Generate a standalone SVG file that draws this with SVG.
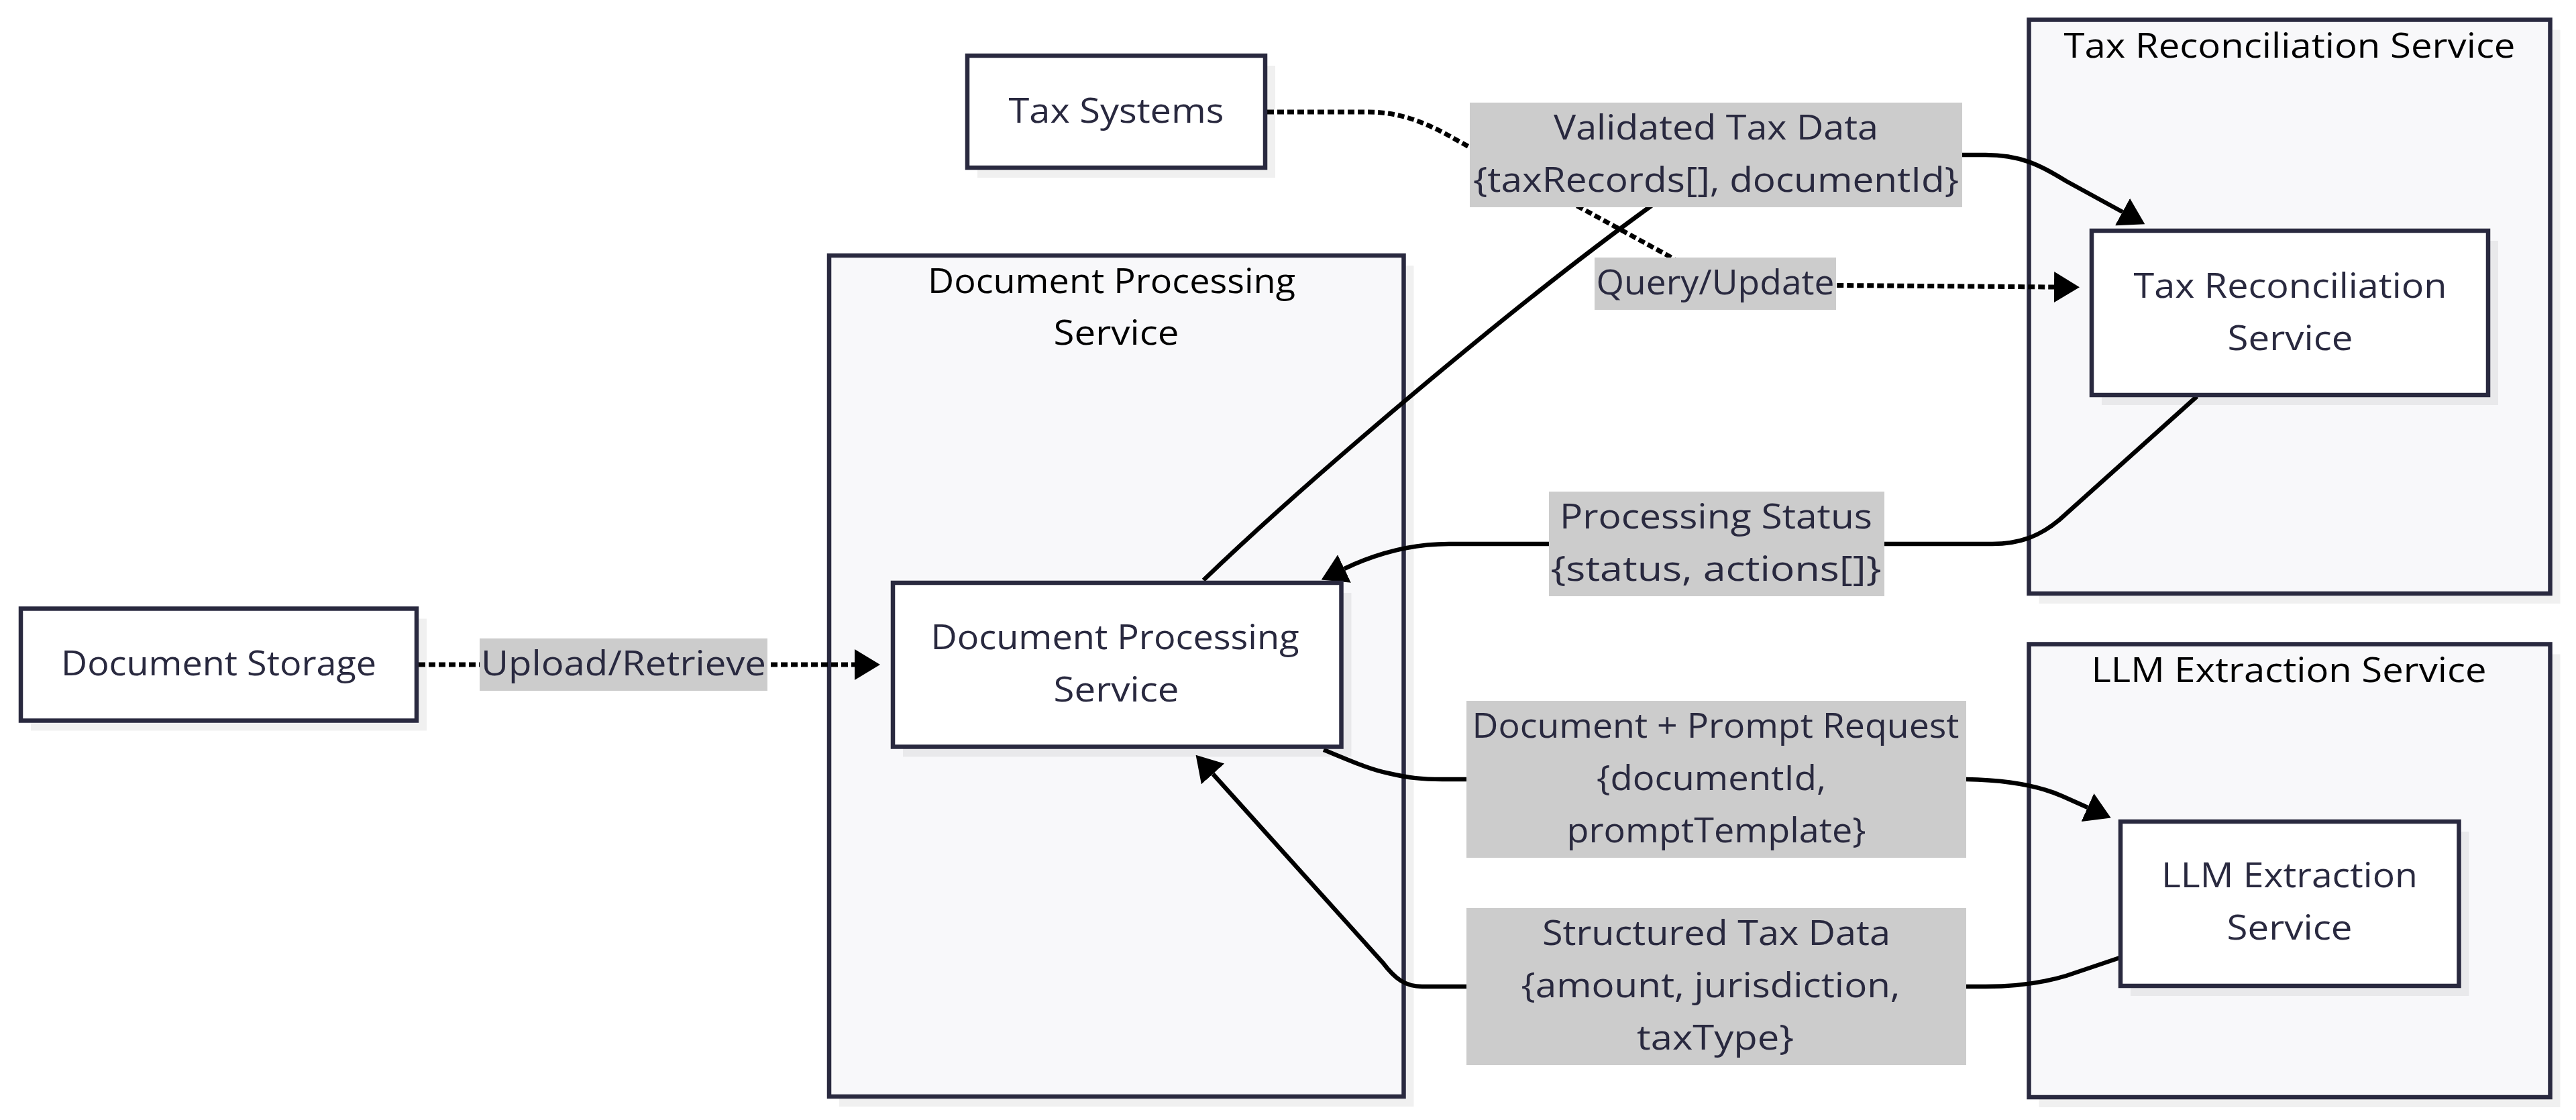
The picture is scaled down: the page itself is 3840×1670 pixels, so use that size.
<svg xmlns="http://www.w3.org/2000/svg" width="3840" height="1670" viewBox="0 0 3840 1670">
<defs>
<style>
.t{font-family:"Open Sans","Noto Sans","Liberation Sans",sans-serif;font-size:52px;text-anchor:middle;fill:#29293f}
.ct{fill:#000}
.node{fill:#fff;stroke:#29293f;stroke-width:6.5}
.cluster{fill:#f8f8fa;stroke:#29293f;stroke-width:6.5}
.shadow{fill:#000;fill-opacity:0.06}
.e{fill:none;stroke:#000;stroke-width:6.5}
.dot{stroke-width:7;stroke-dasharray:10 5}
.lbl{fill:#cccccc}
</style>
<marker id="arr" viewBox="0 0 38 46" refX="0" refY="23" markerUnits="userSpaceOnUse" markerWidth="38" markerHeight="46" orient="auto">
<path d="M0,0L38,23L0,46z" fill="#000"/>
</marker>
</defs>
<rect width="3840" height="1670" fill="#fff"/>

<g id="cluster-docproc">
<rect class="shadow" x="1251" y="396" width="856.5" height="1254"/>
<rect class="cluster" x="1236" y="381" width="856.5" height="1254"/>
<text class="t ct" x="1657" y="437" textLength="548" lengthAdjust="spacingAndGlyphs">Document Processing</text>
<text class="t ct" x="1664" y="514" textLength="187" lengthAdjust="spacingAndGlyphs">Service</text>
</g>
<g id="cluster-taxrec">
<rect class="shadow" x="3039.5" y="44.5" width="777" height="855.5"/>
<rect class="cluster" x="3024.5" y="29.5" width="777" height="855.5"/>
<text class="t ct" x="3413" y="86" textLength="673" lengthAdjust="spacingAndGlyphs">Tax Reconciliation Service</text>
</g>
<g id="cluster-llm">
<rect class="shadow" x="3039.5" y="975.5" width="777" height="675.5"/>
<rect class="cluster" x="3024.5" y="960.5" width="777" height="675.5"/>
<text class="t ct" x="3412" y="1017" textLength="589" lengthAdjust="spacingAndGlyphs">LLM Extraction Service</text>
</g>

<g id="connectors">
<path class="e dot" d="M624,991 H1274" marker-end="url(#arr)"/>
<path class="e dot" d="M1889,167 L2040,167 C2090,167 2130,185 2170,208 L2490,383 C2520,400 2530,424 2557,424 L3062,428" marker-end="url(#arr)"/>
<path class="e" d="M1794,865 C1950,715 2250,460 2460,308 C2500,280 2530,231 2558,231 L2960,231 C3010,231 3040,245 3080,270 L3164,316" marker-end="url(#arr)"/>
<path class="e" d="M3275,591 L3070,775 C3040,800 3010,811 2970,811 L2160,811 C2100,811 2050,826 2004,848" marker-end="url(#arr)"/>
<path class="e" d="M1973,1118 C2010,1133 2040,1147 2070,1153 C2100,1160 2120,1162 2150,1162 L2931,1162 C2990,1163 3040,1172 3074,1187 L3112,1204" marker-end="url(#arr)"/>
<path class="e" d="M3160,1428 L3080,1455 C3040,1467 3000,1471 2960,1471 L2120,1471 C2095,1471 2080,1460 2061,1435 L1808,1154" marker-end="url(#arr)"/>
</g>

<g id="edge-labels">
<rect class="lbl" x="715" y="952" width="429" height="78"/>
<text class="t" x="929.5" y="1007" textLength="425" lengthAdjust="spacingAndGlyphs">Upload/Retrieve</text>
<rect class="lbl" x="2191" y="153" width="734" height="156"/>
<text class="t" x="2558" y="208" textLength="484" lengthAdjust="spacingAndGlyphs">Validated Tax Data</text>
<text class="t" x="2558" y="286" textLength="724" lengthAdjust="spacingAndGlyphs">{taxRecords[], documentId}</text>
<rect class="lbl" x="2377" y="384" width="360" height="78"/>
<text class="t" x="2557" y="439" textLength="355" lengthAdjust="spacingAndGlyphs">Query/Update</text>
<rect class="lbl" x="2309" y="733" width="500" height="156"/>
<text class="t" x="2558" y="788" textLength="466" lengthAdjust="spacingAndGlyphs">Processing Status</text>
<text class="t" x="2558" y="866" textLength="493" lengthAdjust="spacingAndGlyphs">{status, actions[]}</text>
<rect class="lbl" x="2186" y="1045" width="745" height="234"/>
<text class="t" x="2557.5" y="1100" textLength="726" lengthAdjust="spacingAndGlyphs">Document + Prompt Request</text>
<text class="t" x="2551" y="1178" textLength="342" lengthAdjust="spacingAndGlyphs">{documentId,</text>
<text class="t" x="2558.5" y="1256" textLength="446" lengthAdjust="spacingAndGlyphs">promptTemplate}</text>
<rect class="lbl" x="2186" y="1354" width="745" height="234"/>
<text class="t" x="2558.5" y="1409" textLength="519" lengthAdjust="spacingAndGlyphs">Structured Tax Data</text>
<text class="t" x="2550" y="1487" textLength="565" lengthAdjust="spacingAndGlyphs">{amount, jurisdiction,</text>
<text class="t" x="2557" y="1565" textLength="234" lengthAdjust="spacingAndGlyphs">taxType}</text>
</g>

<g id="node-docstorage">
<rect class="shadow" x="46" y="922.5" width="590" height="167"/>
<rect class="node" x="31" y="907.5" width="590" height="167"/>
<text class="t" x="326" y="1007" textLength="470" lengthAdjust="spacingAndGlyphs">Document Storage</text>
</g>
<g id="node-taxsystems">
<rect class="shadow" x="1457" y="98" width="444" height="167"/>
<rect class="node" x="1442" y="83" width="444" height="167"/>
<text class="t" x="1664" y="183" textLength="321" lengthAdjust="spacingAndGlyphs">Tax Systems</text>
</g>
<g id="node-docproc">
<rect class="shadow" x="1346" y="884" width="668.5" height="244.5"/>
<rect class="node" x="1331" y="869" width="668.5" height="244.5"/>
<text class="t" x="1662" y="968" textLength="549" lengthAdjust="spacingAndGlyphs">Document Processing</text>
<text class="t" x="1664" y="1046" textLength="187" lengthAdjust="spacingAndGlyphs">Service</text>
</g>
<g id="node-taxrec">
<rect class="shadow" x="3133" y="359" width="591" height="245"/>
<rect class="node" x="3118" y="344" width="591" height="245"/>
<text class="t" x="3414" y="444" textLength="467" lengthAdjust="spacingAndGlyphs">Tax Reconciliation</text>
<text class="t" x="3414" y="522" textLength="187" lengthAdjust="spacingAndGlyphs">Service</text>
</g>
<g id="node-llm">
<rect class="shadow" x="3176" y="1240" width="504.5" height="245"/>
<rect class="node" x="3161" y="1225" width="504.5" height="245"/>
<text class="t" x="3413" y="1323" textLength="382" lengthAdjust="spacingAndGlyphs">LLM Extraction</text>
<text class="t" x="3413" y="1401" textLength="187" lengthAdjust="spacingAndGlyphs">Service</text>
</g>
</svg>
